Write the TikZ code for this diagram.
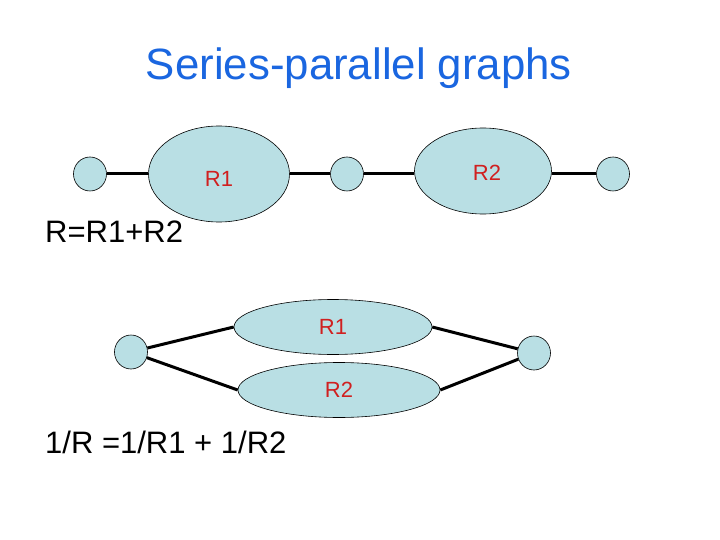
\documentclass[tikz,border=0pt]{standalone}
\usepackage{fontspec}
\setmainfont{Liberation Sans}
\usetikzlibrary{shapes.geometric}
\definecolor{nodefill}{HTML}{B9DFE4}
\definecolor{labred}{HTML}{D02020}
\definecolor{titleblue}{HTML}{1A66E0}
\begin{document}
\begin{tikzpicture}[x=1pt,y=-1pt,
  vert/.style={ellipse,draw=black,line width=0.6pt,fill=nodefill,minimum width=33pt,minimum height=34pt,inner sep=0pt},
  res/.style={ellipse,draw=black,line width=0.6pt,fill=nodefill,inner sep=0pt,text=labred,font=\fontsize{22}{24}\selectfont},
  lab/.style={anchor=base,inner sep=0pt,text=labred,font=\fontsize{22}{24}\selectfont},
  wire/.style={line width=3pt,black},
  big/.style={font=\fontsize{31}{34}\selectfont,anchor=base west,inner sep=0pt}]
\useasboundingbox (0,0) rectangle (720,540);
\fill[white] (0,0) rectangle (720,540);
\node[anchor=base,inner sep=0pt,text=titleblue,font=\fontsize{43.8}{46}\selectfont] (title) at (359,80) {Series-parallel graphs};
% series graph
\node[vert] (a) at (90,174) {};
\node[res,minimum width=141pt,minimum height=96pt] (r1) at (219,174) {};
\node[vert] (b) at (347,174) {};
\node[res,minimum width=137pt,minimum height=86pt] (r2) at (483,171) {};
\node[vert] (c) at (613,174) {};
\draw[wire] (a.east) -- (r1.west |- a.east);
\draw[wire] (r1.east |- b.west) -- (b.west);
\draw[wire] (b.east) -- (r2.west |- b.east);
\draw[wire] (r2.east |- c.west) -- (c.west);
\node[lab] (l1) at (219,187) {R1};
\node[lab] (l2) at (487,181) {R2};
\node[big] (eq1) at (45,242) {R=R1+R2};
% parallel graph
\node[vert] (p) at (131,352) {};
\node[res,minimum width=198pt,minimum height=55pt] (q1) at (333,327) {R1};
\node[res,minimum width=202pt,minimum height=55pt] (q2) at (339,390) {R2};
\node[vert] (s) at (534,353) {};
\draw[wire] (p) -- (q1.west);
\draw[wire] (p) -- (q2.west);
\draw[wire] (q1.east) -- (s);
\draw[wire] (q2.east) -- (s);
\node[big] (eq2) at (45,453) {1/R =1/R1 + 1/R2};
\end{tikzpicture}
\end{document}
